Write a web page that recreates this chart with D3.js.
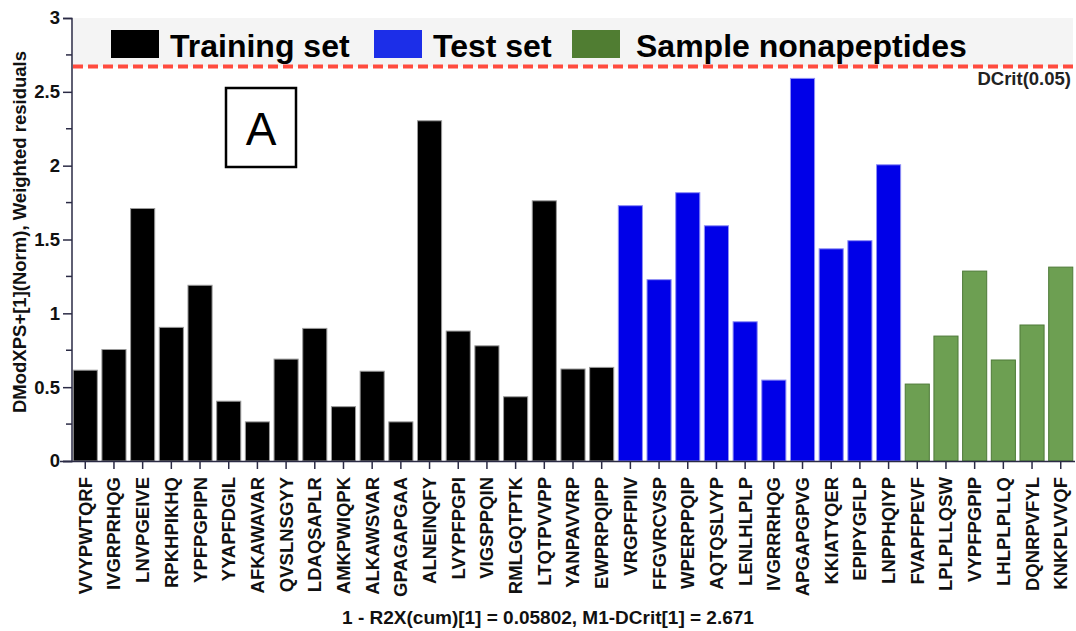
<!DOCTYPE html>
<html><head><meta charset="utf-8">
<script src="https://cdn.jsdelivr.net/npm/d3@7"></script>
<style>body{margin:0;background:#fff}svg{display:block}text{font-family:"Liberation Sans",Arial,sans-serif}</style>
</head><body>
<svg id="c" width="1076" height="631"></svg>
<script>
const trainingNames = ["VVYPWTQRF","IVGRPRHQG","LNVPGEIVE","RPKHPIKHQ","YPFPGPIPN","YYAPFDGIL","AFKAWAVAR","QVSLNSGYY","LDAQSAPLR","AMKPWIQPK","ALKAWSVAR","GPAGAPGAA","ALNEINQFY","LVYPFPGPI","VIGSPPQIN","RMLGQTPTK","LTQTPVVPP","YANPAVVRP","EWPRPQIPP"];
const trainingValues = [0.615,0.755,1.71,0.905,1.19,0.405,0.265,0.69,0.898,0.368,0.608,0.265,2.304,0.88,0.78,0.435,1.762,0.623,0.634];
const testNames = ["VRGPFPIIV","FFGVRCVSP","WPERPPQIP","AQTQSLVYP","LENLHLPLP","IVGRRRHQG","APGAPGPVG","KKIATYQER","EPIPYGFLP","LNPPHQIYP"];
const testValues = [1.729,1.228,1.817,1.593,0.943,0.548,2.591,1.437,1.492,2.006];
const sampleNames = ["FVAPFPEVF","LPLPLLQSW","VYPFPGPIP","LHLPLPLLQ","DQNRPVFYL","KNKPLVVQF"];
const sampleValues = [0.521,0.846,1.286,0.684,0.921,1.313];
const dcrit = 2.671;
const yTicks = [0,0.5,1,1.5,2,2.5,3];
const legendLabels = ["Training set","Test set","Sample nonapeptides"];

const groups = [
  {names:trainingNames, values:trainingValues, fill:"#000000", stroke:"#9a9a9a"},
  {names:testNames, values:testValues, fill:"#0000e8", stroke:"#8f8ff5"},
  {names:sampleNames, values:sampleValues, fill:"#6d9f52", stroke:"#4e7a38"}
];
const data = [];
groups.forEach(g => g.names.forEach((n,i) => data.push({name:n, value:g.values[i], fill:g.fill, stroke:g.stroke})));

const svg = d3.select("#c");
const x = d3.scaleBand().domain(data.map(d=>d.name)).range([71,1075]).paddingInner(0.125).paddingOuter(0.06);
const y = d3.scaleLinear().domain([0,3]).range([461,18]);
const axisColor = "#2b2b45";
const FF = "Liberation Sans, Arial, sans-serif";

// legend background band
svg.append("rect").attr("x",73).attr("y",y(3)).attr("width",1000).attr("height",y(dcrit)-y(3)).attr("fill","#f4f4f4");

// bars
svg.append("g").selectAll("rect").data(data).join("rect")
  .attr("x",d=>x(d.name)+0.5).attr("width",x.bandwidth()-1)
  .attr("y",d=>y(d.value)).attr("height",d=>y(0)-y(d.value))
  .attr("fill",d=>d.fill).attr("stroke",d=>d.stroke).attr("stroke-width",1);

// dcrit line
svg.append("line").attr("x1",73).attr("x2",1075).attr("y1",y(dcrit)).attr("y2",y(dcrit))
  .attr("stroke","#ff4b3e").attr("stroke-width",4).attr("stroke-dasharray","10,5");
svg.append("text").attr("x",1071).attr("y",85).attr("text-anchor","end")
  .attr("font-size",18.5).attr("font-weight","bold").attr("fill","#222").text("DCrit(0.05)");

// legend
const legColors = ["#000000","#1c2ee8","#507d32"];
const legX = [111,374,572];
const legTextX = [170,433,636];
legendLabels.forEach((l,i)=>{
  svg.append("rect").attr("x",legX[i]).attr("y",30).attr("width",48).attr("height",28).attr("fill",legColors[i]);
  svg.append("text").attr("x",legTextX[i]).attr("y",57).attr("font-size",32).attr("font-weight","bold").attr("fill","#000").text(l);
});

// y axis
const ya = svg.append("g").attr("transform","translate(72,0)")
  .call(d3.axisLeft(y).tickValues(yTicks).tickFormat(d=>d3.format("")(d)).tickSize(9).tickPadding(3));
ya.select(".domain").attr("stroke",axisColor).attr("stroke-width",1.5).attr("d","M-9,18.5H0V461.5H-9");
ya.selectAll(".tick line").attr("stroke",axisColor).attr("stroke-width",1.5);
ya.selectAll(".tick text").attr("font-size",18.5).attr("font-weight","bold").attr("fill","#111")
  .attr("font-family",FF);
const minor = d3.range(0.25,3,0.5);
svg.append("g").selectAll("line").data(minor).join("line")
  .attr("x1",66).attr("x2",72).attr("y1",d=>y(d)).attr("y2",d=>y(d))
  .attr("stroke",axisColor).attr("stroke-width",1.5);

// x axis
const xa = svg.append("g").attr("transform","translate(0,461)")
  .call(d3.axisBottom(x).tickSize(8).tickSizeOuter(0));
xa.select(".domain").attr("stroke",axisColor).attr("stroke-width",1.5).attr("d","M60,0.5H1075");
xa.selectAll(".tick line").attr("stroke",axisColor).attr("stroke-width",1.5);
xa.selectAll(".tick text").attr("font-size",18.5).attr("font-weight","bold").attr("fill","#111")
  .attr("font-family",FF)
  .attr("text-anchor","end").attr("transform","translate(0,16) rotate(-90)").attr("dy","0.35em").attr("x",0).attr("y",0);

// axis titles
svg.append("text").attr("transform","translate(26,232) rotate(-90)").attr("text-anchor","middle")
  .attr("font-size",18.5).attr("font-weight","bold").attr("fill","#111").text("DModXPS+[1](Norm), Weighted residuals");
svg.append("text").attr("x",548).attr("y",624).attr("text-anchor","middle")
  .attr("font-size",19).attr("font-weight","bold").attr("fill","#111").text("1 - R2X(cum)[1] = 0.05802, M1-DCrit[1] = 2.671");

// A box
svg.append("rect").attr("x",226).attr("y",88).attr("width",70).attr("height",79).attr("fill","#fff").attr("stroke","#000").attr("stroke-width",2.5);
svg.append("text").attr("x",261).attr("y",145).attr("text-anchor","middle").attr("font-size",46).attr("fill","#000").text("A");
</script>
</body></html>
